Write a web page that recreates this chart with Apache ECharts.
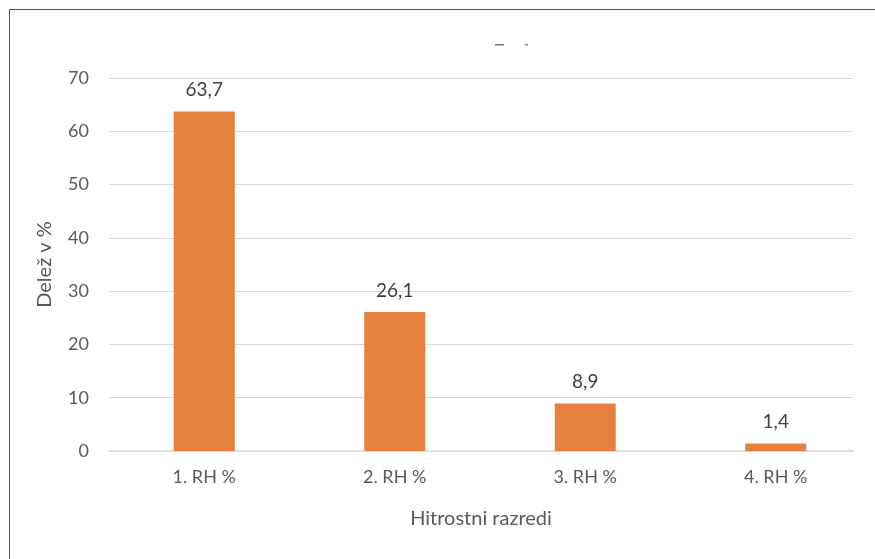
<!DOCTYPE html>
<html>
<head>
<meta charset="utf-8">
<script src="https://cdn.jsdelivr.net/npm/echarts@6/dist/echarts.min.js"></script>
<style>
  html, body { margin: 0; padding: 0; background: #fff; }
  #chart { width: 875px; height: 559px; }
</style>
</head>
<body>
<div id="chart"></div>
<script>
// Speed classes and their share in percent
const categories = ['1. RH %', '2. RH %', '3. RH %', '4. RH %'];
const shares = [63.7, 26.1, 8.9, 1.4];
const yTicks = [0, 10, 20, 30, 40, 50, 60, 70];

const FONT = 'Lato, "Open Sans", sans-serif';
const TEXT = '#595959';
const GRID_LINE = '#d9d9d9';
const yMin = yTicks[0];
const yMax = yTicks[yTicks.length - 1];

const chart = echarts.init(document.getElementById('chart'), null, { renderer: 'canvas' });
chart.setOption({
  animation: false,
  backgroundColor: '#ffffff',
  graphic: [
    // outer frame (left and top edges visible)
    { type: 'line', shape: { x1: 9.5, y1: 9.5, x2: 875, y2: 9.5 }, style: { stroke: '#555', lineWidth: 1 } },
    { type: 'line', shape: { x1: 9.5, y1: 9.5, x2: 9.5, y2: 559 }, style: { stroke: '#555', lineWidth: 1 } },
    // clipped remains of a title
    { type: 'rect', shape: { x: 495, y: 44, width: 9, height: 1.5 }, style: { fill: '#777' } },
    { type: 'rect', shape: { x: 525, y: 44, width: 3, height: 1.5 }, style: { fill: '#888' } }
  ],
  grid: [
    // bar area: category bands
    { left: 109, width: 762, top: 78, bottom: 108, containLabel: false },
    // frame area: gridlines, value labels and baseline
    { left: 109, right: 22, top: 78, bottom: 108, containLabel: false }
  ],
  xAxis: [
    {
      gridIndex: 0,
      type: 'category',
      data: categories,
      axisLine: { show: false },
      axisTick: { show: false },
      axisLabel: { color: TEXT, fontSize: 18, fontFamily: FONT, margin: 17 }
    },
    {
      gridIndex: 1,
      type: 'category',
      data: categories,
      name: 'Hitrostni razredi',
      nameLocation: 'middle',
      nameGap: 58,
      nameTextStyle: { color: TEXT, fontSize: 20, fontFamily: FONT },
      axisLine: { show: true, lineStyle: { color: GRID_LINE, width: 1.5 } },
      axisTick: { show: false },
      axisLabel: { show: false }
    }
  ],
  yAxis: [
    {
      gridIndex: 0,
      type: 'value',
      min: yMin, max: yMax, interval: 10,
      axisLine: { show: false }, axisTick: { show: false },
      axisLabel: { show: false }, splitLine: { show: false }
    },
    {
      gridIndex: 1,
      type: 'value',
      min: yMin, max: yMax, interval: 10,
      name: 'Delež v %',
      nameLocation: 'middle',
      nameGap: 54,
      nameRotate: 90,
      nameTextStyle: { color: TEXT, fontSize: 20, fontFamily: FONT },
      axisLine: { show: false },
      axisTick: { show: false },
      axisLabel: { color: TEXT, fontSize: 18, fontFamily: FONT, margin: 20 },
      splitLine: { lineStyle: { color: GRID_LINE, width: 1 } }
    }
  ],
  series: [{
    type: 'bar',
    xAxisIndex: 0,
    yAxisIndex: 0,
    data: shares,
    barWidth: 61,
    itemStyle: { color: '#E5803F' },
    label: {
      show: true,
      position: 'top',
      distance: 12,
      color: '#404040',
      fontSize: 19,
      fontFamily: FONT,
      formatter: p => String(p.value).replace('.', ',')
    }
  }]
});
</script>
</body>
</html>
